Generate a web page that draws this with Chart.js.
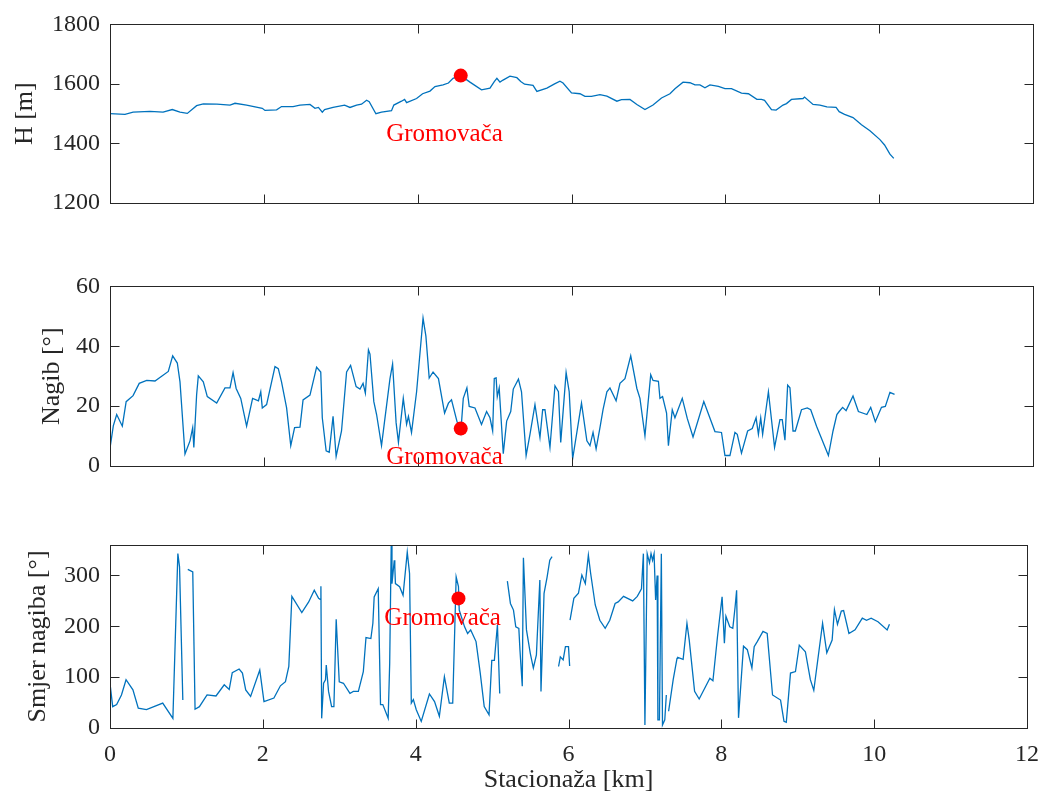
<!DOCTYPE html>
<html>
<head>
<meta charset="utf-8">
<script src="https://cdn.jsdelivr.net/npm/chart.js@4.4.0/dist/chart.umd.min.js"></script>
<style>
  body { margin: 0; background: #fff; }
  #wrap { position: relative; width: 1051px; height: 801px; }
  canvas { position: absolute; left: 0; }
</style>
</head>
<body>
<div id="wrap">
  <canvas id="cH" width="1051" height="262" style="top:0px"></canvas>
  <canvas id="cN" width="1051" height="258" style="top:262px"></canvas>
  <canvas id="cS" width="1051" height="281" style="top:520px"></canvas>
</div>
<script>
/* ---------- data ---------- */
const stacTicks = [0, 2, 4, 6, 8, 10, 12];
const hTicks = [1200, 1400, 1600, 1800];
const nagibTicks = [0, 20, 40, 60];
const smjerTicks = [0, 100, 200, 300];

// visina (H)
const stacH = [
  0, 0.195, 0.30, 0.52, 0.69, 0.81, 0.91, 1.005, 1.126, 1.213,
  1.39, 1.56, 1.625, 1.776, 1.98, 2.015, 2.166, 2.23, 2.38, 2.47,
  2.60, 2.665, 2.71, 2.76, 2.79, 2.90, 3.05, 3.12, 3.206, 3.27,
  3.336, 3.37, 3.457, 3.53, 3.66, 3.69, 3.79, 3.83, 3.856, 3.986,
  4.064, 4.16, 4.225, 4.33, 4.40, 4.46, 4.56, 4.68, 4.83, 4.94,
  4.996, 5.03, 5.07, 5.11, 5.20, 5.29, 5.34, 5.39, 5.50, 5.55,
  5.68, 5.78, 5.85, 5.89, 6.00, 6.11, 6.175, 6.26, 6.37, 6.46,
  6.59, 6.65, 6.76, 6.85, 6.955, 7.06, 7.17, 7.28, 7.345, 7.45,
  7.54, 7.605, 7.67, 7.735, 7.80, 7.91, 7.995, 8.08, 8.21, 8.30,
  8.41, 8.47, 8.51, 8.60, 8.66, 8.75, 8.795, 8.86, 9.01, 9.03,
  9.14, 9.23, 9.32, 9.44, 9.48, 9.55, 9.66, 9.77, 9.88, 10.01,
  10.07, 10.14, 10.19
];
const visina = [
  1500, 1498, 1505, 1508, 1505, 1514, 1505, 1501, 1527, 1533,
  1532, 1529, 1535, 1529, 1518, 1511, 1513, 1524, 1524, 1529,
  1531, 1518, 1521, 1505, 1514, 1521, 1529, 1521, 1529, 1532,
  1545, 1540, 1500, 1505, 1510, 1529, 1542, 1548, 1537, 1551,
  1567, 1576, 1591, 1597, 1603, 1619, 1628, 1606, 1580, 1586,
  1608, 1619, 1606, 1613, 1626, 1621, 1608, 1599, 1595, 1575,
  1586, 1600, 1609, 1603, 1570, 1567, 1558, 1558, 1564, 1559,
  1542, 1547, 1548, 1531, 1514, 1529, 1553, 1567, 1584, 1606,
  1604, 1597, 1597, 1587, 1597, 1592, 1584, 1584, 1569, 1567,
  1548, 1548, 1545, 1514, 1512, 1529, 1534, 1548, 1551, 1556,
  1531, 1529, 1523, 1521, 1507, 1498, 1487, 1463, 1443, 1413,
  1395, 1364, 1350
];

// nagib
const stacN = [
  0, 0.043, 0.087, 0.16, 0.21, 0.30, 0.38, 0.477, 0.585, 0.758,
  0.815, 0.875, 0.91, 0.975, 1.04, 1.075, 1.09, 1.126, 1.148, 1.213,
  1.265, 1.387, 1.495, 1.56, 1.60, 1.64, 1.70, 1.776, 1.854, 1.93,
  1.96, 1.98, 2.036, 2.145, 2.188, 2.23, 2.296, 2.35, 2.40, 2.47,
  2.51, 2.60, 2.686, 2.74, 2.76, 2.81, 2.85, 2.90, 2.94, 3.01,
  3.076, 3.128, 3.20, 3.25, 3.29, 3.32, 3.36, 3.38, 3.43, 3.466,
  3.53, 3.57, 3.64, 3.674, 3.72, 3.75, 3.813, 3.856, 3.88, 3.92,
  3.986, 4.07, 4.107, 4.15, 4.20, 4.27, 4.35, 4.40, 4.44, 4.51,
  4.56, 4.593, 4.64, 4.67, 4.745, 4.83, 4.896, 4.94, 4.975, 4.996,
  5.02, 5.035, 5.06, 5.113, 5.157, 5.21, 5.243, 5.31, 5.35, 5.41,
  5.46, 5.525, 5.59, 5.625, 5.655, 5.72, 5.785, 5.83, 5.86, 5.93,
  5.97, 6.015, 6.13, 6.20, 6.24, 6.28, 6.32, 6.37, 6.41, 6.46,
  6.50, 6.58, 6.63, 6.695, 6.77, 6.85, 6.89, 6.955, 7.03, 7.06,
  7.13, 7.15, 7.184, 7.236, 7.26, 7.31, 7.345, 7.44, 7.505, 7.58,
  7.72, 7.865, 7.95, 7.995, 8.06, 8.125, 8.155, 8.21, 8.29, 8.35,
  8.40, 8.43, 8.46, 8.485, 8.56, 8.64, 8.71, 8.74, 8.775, 8.81,
  8.84, 8.88, 8.91, 8.99, 9.065, 9.11, 9.186, 9.34, 9.40, 9.45,
  9.48, 9.525, 9.57, 9.66, 9.73, 9.84, 9.89, 9.95, 10.03, 10.08,
  10.14, 10.20
];
const nagib = [
  6, 13.4, 17.2, 13.3, 21.5, 23.5, 27.6, 28.6, 28.4, 31.6,
  36.8, 34.4, 28.1, 4.0, 8.4, 12.8, 6.2, 23.7, 30.1, 28.1,
  23.2, 21.0, 26.1, 26.1, 31.2, 25.9, 22.6, 13.3, 22.6, 21.8,
  24.8, 19.4, 20.5, 33.2, 32.5, 28.1, 19.4, 6.8, 12.8, 13.0,
  22.1, 23.7, 33.0, 31.4, 16.1, 5.1, 4.6, 16.6, 3.2, 11.7,
  31.4, 33.6, 26.5, 25.7, 27.6, 24.3, 38.8, 37.4, 21.5, 17.2,
  6.8, 15.0, 29.2, 34.1, 14.4, 7.9, 22.6, 13.9, 16.6, 11.2,
  24.8, 49.4, 43.4, 29.4, 31.4, 29.2, 17.7, 21.0, 22.1, 15.0,
  11, 22.6, 26.1, 19.9, 19.4, 13.9, 18.2, 16.1, 11.7, 29.2,
  29.4, 23.2, 26.1, 4.1, 15.0, 18.2, 25.7, 29.0, 24.8, 3.5,
  10.6, 20.5, 9.5, 18.8, 18.8, 6.2, 26.8, 24.8, 7.9, 31.2,
  24.8, 2.4, 21.0, 8.4, 6.8, 11.2, 5.7, 12.8, 18.8, 24.8,
  26.1, 21.8, 27.6, 29.2, 36.8, 25.9, 22.6, 10.1, 30.5, 28.6,
  28.3, 22.6, 23.2, 17.7, 6.8, 18.8, 16.1, 22.6, 15.9, 9.7,
  21.5, 11.5, 11.2, 3.5, 3.5, 11.2, 10.6, 4.3, 11.7, 12.5,
  16.1, 10.6, 16.1, 10.6, 24.8, 6.2, 15.5, 15.5, 8.6, 27.0,
  26.1, 11.7, 11.7, 18.8, 19.4, 18.8, 13.3, 3.5, 11.7, 17.2,
  18.2, 19.6, 18.5, 23.4, 18.2, 17.2, 19.6, 14.8, 19.6, 19.9,
  24.6, 23.9
];

// smjer nagiba (null = prekid linije)
const stacS = [
  0, 0.035, 0.087, 0.15, 0.21, 0.30, 0.37, 0.477, 0.69, 0.823,
  0.888, 0.91, 0.953, 0.98, 1.018, 1.083, 1.113, 1.17, 1.27, 1.387,
  1.495, 1.56, 1.60, 1.69, 1.733, 1.776, 1.84, 1.96, 2.015, 2.145,
  2.23, 2.296, 2.34, 2.38, 2.51, 2.60, 2.673, 2.73, 2.75, 2.76,
  2.77, 2.795, 2.82, 2.83, 2.86, 2.90, 2.93, 2.96, 3.00, 3.055,
  3.14, 3.184, 3.25, 3.315, 3.35, 3.414, 3.44, 3.457, 3.51, 3.54,
  3.57, 3.64, 3.66, 3.68, 3.69, 3.72, 3.727, 3.735, 3.79, 3.835,
  3.89, 3.92, 3.943, 3.97, 4.008, 4.073, 4.18, 4.247, 4.31, 4.376,
  4.44, 4.485, 4.53, 4.56, 4.57, 4.64, 4.68, 4.72, 4.79, 4.845,
  4.897, 4.96, 4.996, 5.03, 5.07, 5.10, 5.15, 5.20, 5.24, 5.28,
  5.31, 5.35, 5.365, 5.395, 5.41, 5.45, 5.50, 5.54, 5.58, 5.625,
  5.64, 5.68, 5.72, 5.755, 5.785, 5.83, 5.87, 5.893, 5.93, 5.96,
  6.00, 6.015, 6.018, 6.02, 6.07, 6.13, 6.175, 6.22, 6.26, 6.29,
  6.35, 6.41, 6.48, 6.54, 6.61, 6.65, 6.72, 6.84, 6.90, 6.955,
  6.98, 7.00, 7.03, 7.06, 7.08, 7.10, 7.12, 7.14, 7.16, 7.17,
  7.19, 7.215, 7.23, 7.26, 7.28, 7.295, 7.31, 7.37, 7.42, 7.43,
  7.50, 7.55, 7.58, 7.65, 7.71, 7.85, 7.89, 7.95, 8.01, 8.04,
  8.06, 8.11, 8.15, 8.18, 8.20, 8.225, 8.29, 8.34, 8.40, 8.43,
  8.47, 8.545, 8.60, 8.67, 8.775, 8.82, 8.85, 8.905, 8.97, 9.02,
  9.10, 9.165, 9.21, 9.325, 9.38, 9.45, 9.48, 9.52, 9.57, 9.60,
  9.67, 9.75, 9.845, 9.90, 9.96, 10.05, 10.17, 10.20
];
const smjer = [
  88, 42, 46, 65, 95, 75, 39, 36, 49, 19,
  343, 317, 55, null, 312, 307, 37, 42, 65, 63,
  85, 76, 109, 116, 108, 75, 62, 114, 52, 59,
  83, 91, 121, 259, 227, 248, 271, 255, 253, 279,
  19, 88, 95, 124, 72, 42, 42, 214, 91, 88,
  68, 72, 72, 111, 178, 176, 206, 258, 274, 46,
  46, 19, 127, 359, 284, 330, 317, 284, 278, 261,
  346, 304, 49, 56, 36, 13, 67, 52, 23, 101,
  49, 49, 297, 278, 232, 199, 186, 193, 170, 108,
  42, 26, 133, 133, 203, 68, null, 289, 245, 232,
  199, 196, 153, 82, 335, 193, 147, 118, 144, 291,
  72, 265, 297, 330, 337, null, 121, 140, 134, 160,
  160, 122, null, 212, 255, 265, 301, 284, 340, 304,
  242, 212, 196, 212, 245, 248, 259, 250, 259, 274,
  343, 6, 343, 325, 343, 330, 343, 252, 300, 16,
  16, 343, 6, 16, 65, null, 33, 95, 137, 139,
  135, 206, 173, 72, 57, 98, 93, 180, 258, 167,
  220, 199, 196, 238, 271, 20, 161, 154, 118, 160,
  170, 190, 186, 65, 55, 13, 11, 108, 111, 163,
  150, 95, 74, 206, 148, 173, 233, 204, 230, 231,
  186, 193, 216, 212, 216, 209, 193, 204
];

// Gromovača
const markerX = 4.56;
const markerY = [1628, 12.5, 255];
const labelX = 3.59;
const labelY = [1408, 0.8, 202];

/* ---------- style ---------- */
const blue = '#0072BD';
const red = '#FF0000';
const axisColor = '#262626';
Chart.defaults.font.family = '"Liberation Serif", "Times New Roman", serif';
Chart.defaults.color = axisColor;

/* ---------- box + inward ticks (matlab look) ---------- */
const framePlugin = {
  id: 'frame',
  afterDatasetsDraw(chart, args, opts) {
    const { ctx, chartArea: a, scales: { x, y } } = chart;
    const L = Math.round(a.left) + 0.5, R = Math.round(a.right) + 0.5;
    const T = Math.round(a.top) + 0.5, B = Math.round(a.bottom) + 0.5;
    const tl = 9;
    ctx.save();
    ctx.strokeStyle = axisColor;
    ctx.lineWidth = 1;
    ctx.strokeRect(L, T, R - L, B - T);
    ctx.beginPath();
    x.ticks.forEach(t => {
      const px = Math.round(x.getPixelForValue(t.value)) + 0.5;
      ctx.moveTo(px, B); ctx.lineTo(px, B - tl);
      ctx.moveTo(px, T); ctx.lineTo(px, T + tl);
    });
    y.ticks.forEach(t => {
      const py = Math.round(y.getPixelForValue(t.value)) + 0.5;
      ctx.moveTo(L, py); ctx.lineTo(L + tl, py);
      ctx.moveTo(R, py); ctx.lineTo(R - tl, py);
    });
    ctx.stroke();
    // oznaka
    ctx.fillStyle = red;
    ctx.font = '25px "Liberation Serif", serif';
    ctx.textBaseline = 'alphabetic';
    ctx.textAlign = 'left';
    ctx.fillText('Gromovača', x.getPixelForValue(labelX), y.getPixelForValue(opts.labelY));
    ctx.restore();
  }
};

function makePanel(id, xs, ys, c) {
  const pts = xs.map((v, i) => ({ x: v, y: ys[i] }));
  return new Chart(document.getElementById(id), {
    type: 'line',
    data: {
      datasets: [
        { data: pts, borderColor: blue, borderWidth: 1.3, pointRadius: 0, tension: 0, spanGaps: false, order: 1 },
        { data: [{ x: markerX, y: c.markerY }], showLine: false, pointRadius: 7, pointHoverRadius: 7,
          pointBackgroundColor: red, pointBorderColor: red, pointBorderWidth: 0, order: 0 }
      ]
    },
    options: {
      responsive: false,
      animation: false,
      layout: { padding: { top: c.top, right: 18, left: 0, bottom: 0 } },
      plugins: { legend: { display: false }, tooltip: { enabled: false }, frame: { labelY: c.labelY } },
      scales: {
        x: {
          type: 'linear', min: 0, max: 12,
          afterBuildTicks: s => { s.ticks = stacTicks.map(v => ({ value: v })); },
          afterFit: s => { s.height = c.xHeight; },
          grid: { display: false, drawTicks: false },
          border: { display: false },
          ticks: { display: c.showX, padding: 12, maxRotation: 0, font: { size: 24 }, color: axisColor,
                   callback: v => String(v) },
          title: { display: c.showX, text: 'Stacionaža [km]', font: { size: 26 }, color: axisColor, padding: { top: 0, bottom: 5 } }
        },
        y: {
          min: c.min, max: c.max,
          afterBuildTicks: s => { s.ticks = c.ticks.map(v => ({ value: v })); },
          afterFit: s => { s.width = 110; },
          grid: { display: false, drawTicks: false },
          border: { display: false },
          ticks: { padding: 10, font: { size: 24 }, color: axisColor, callback: v => String(v) },
          title: { display: true, text: c.title, font: { size: 26 }, color: axisColor, padding: { top: c.titlePad, bottom: 0 } }
        }
      }
    },
    plugins: [framePlugin]
  });
}

makePanel('cH', stacH, visina, { top: 21, xHeight: 59, showX: false, min: 1200, max: 1800, ticks: hTicks,
  title: 'H [m]', titlePad: 10, markerY: markerY[0], labelY: labelY[0] });
makePanel('cN', stacN, nagib, { top: 21, xHeight: 54, showX: false, min: 0, max: 60, ticks: nagibTicks,
  title: 'Nagib [°]', titlePad: 37, markerY: markerY[1], labelY: labelY[1] });
makePanel('cS', stacS, smjer, { top: 25, xHeight: 73, showX: true, min: 0, max: 360, ticks: smjerTicks,
  title: 'Smjer nagiba [°]', titlePad: 23, markerY: markerY[2], labelY: labelY[2] });
</script>
</body>
</html>
